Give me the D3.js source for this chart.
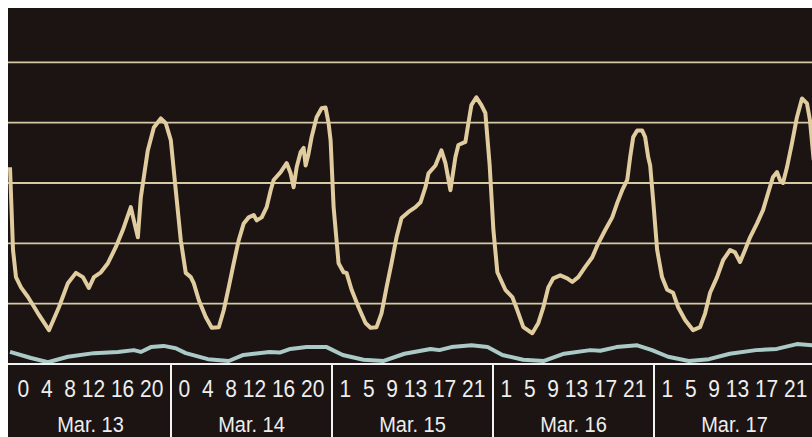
<!DOCTYPE html>
<html><head><meta charset="utf-8">
<script src="https://cdn.jsdelivr.net/npm/d3@7"></script>
<style>html,body{margin:0;padding:0;background:#fff;} svg{display:block}</style>
</head><body><svg id="c" width="812" height="437"></svg>
<script>
const dates = ["Mar. 13","Mar. 14","Mar. 15","Mar. 16","Mar. 17"];
const hourTicks = [[0,4,8,12,16,20],[0,4,8,12,16,20],[1,5,9,13,17,21],[1,5,9,13,17,21],[1,5,9,13,17,21]];
const gridValues = [1,2,3,4,5];
// [hours since Mar. 13 00:00, value]
const demand = [
[0,3.26],[0.45,1.89],[0.89,1.44],[1.64,1.27],[2.68,1.11],[4.17,0.84],[5.81,0.56],[7.29,0.94],[8.63,1.34],[9.83,1.51],[10.87,1.44],[11.76,1.26],[12.51,1.44],[13.55,1.52],[14.59,1.67],[15.78,1.94],[16.82,2.22],[18.01,2.60],[18.46,2.38],[19.06,2.10],[19.5,2.76],[19.95,3.10],[20.54,3.54],[21.44,3.92],[22.48,4.07],[23.22,3.99],[23.97,3.71],
[24.71,2.88],[25.46,2.05],[26.2,1.51],[26.95,1.44],[27.39,1.34],[28.14,1.06],[29.18,0.78],[30.07,0.60],[31.12,0.61],[31.86,0.89],[32.6,1.27],[33.35,1.67],[34.09,2.05],[34.84,2.33],[35.58,2.43],[36.33,2.47],[36.77,2.38],[37.52,2.43],[38.26,2.60],[38.86,2.88],[39.3,3.05],[40.35,3.18],[41.24,3.33],[41.83,3.16],[42.28,2.93],[42.73,3.26],[43.32,3.51],[43.77,3.58],[44.07,3.29],[44.51,3.49],[44.96,3.76],[45.7,4.09],[46.45,4.24],[47.04,4.25],[47.49,3.99],
[47.79,3.71],[48.24,2.60],[48.98,1.67],[49.72,1.52],[50.17,1.51],[50.92,1.23],[51.96,0.94],[53.0,0.68],[53.74,0.60],[54.64,0.61],[55.38,0.84],[56.13,1.27],[56.87,1.67],[57.62,2.10],[58.36,2.42],[59.4,2.52],[60.45,2.60],[61.19,2.68],[61.93,2.93],[62.38,3.16],[63.42,3.29],[64.31,3.54],[64.91,3.33],[65.65,2.88],[66.4,3.43],[66.84,3.63],[67.88,3.68],[68.33,3.99],[68.78,4.29],[69.52,4.42],[70.27,4.29],[70.86,4.16],[71.5,3.30],
[72.06,2.22],[72.65,1.52],[73.84,1.23],[74.88,1.11],[75.63,0.89],[76.52,0.61],[77.86,0.51],[78.76,0.68],[79.5,0.94],[80.24,1.27],[80.99,1.42],[82.03,1.47],[83.07,1.42],[83.82,1.36],[84.71,1.44],[85.75,1.61],[86.8,1.77],[87.69,2.00],[88.73,2.22],[89.77,2.43],[90.52,2.67],[91.26,2.88],[92.01,3.05],[92.45,3.43],[92.9,3.76],[93.49,3.87],[94.24,3.87],[94.68,3.76],[95.13,3.43],[95.43,3.29],[95.87,2.72],
[96.47,1.89],[97.2,1.44],[97.96,1.23],[98.85,1.18],[99.6,0.94],[100.64,0.73],[101.83,0.56],[102.87,0.61],[103.62,0.84],[104.36,1.18],[105.4,1.44],[106.3,1.72],[107.34,1.89],[108.08,1.85],[108.83,1.69],[109.57,1.89],[110.32,2.10],[111.36,2.33],[112.25,2.55],[113.0,2.83],[113.74,3.10],[114.34,3.18],[114.78,3.05],[115.23,3.00],[115.82,3.26],[116.57,3.66],[117.31,4.09],[118.06,4.40],[118.8,4.32],[119.25,4.04],[119.8,3.38]
];
const baseline = [
[0,0.20],[3.13,0.10],[5.66,0.03],[8.63,0.12],[12.5,0.18],[16.08,0.20],[18.46,0.23],[19.5,0.20],[21.0,0.28],[22.9,0.30],[24.7,0.26],[26.2,0.18],[29.5,0.08],[32.6,0.05],[34.8,0.15],[38.7,0.20],[40.2,0.19],[41.8,0.25],[44.2,0.28],[47.2,0.28],[49.6,0.15],[52.7,0.07],[55.7,0.05],[58.8,0.17],[62.7,0.25],[64.0,0.23],[65.8,0.28],[68.8,0.31],[71.2,0.28],[73.4,0.15],[76.5,0.07],[79.6,0.05],[82.6,0.17],[86.5,0.23],[88.0,0.22],[90.4,0.28],[93.5,0.31],[95.7,0.23],[98.1,0.12],[101.2,0.05],[104.2,0.08],[107.3,0.17],[111.2,0.23],[114.3,0.25],[117.3,0.33],[119.8,0.31]
];

const W = 812, H = 437, L = 8, T = 8, axisY = 364;
const svg = d3.select("#c");
const x = d3.scaleLinear().domain([0, 120]).range([10, 815]);
const y = d3.scaleLinear().domain([0, 5.9]).range([axisY, T]);

svg.append("rect").attr("x", L).attr("y", T).attr("width", W - L).attr("height", H - T).attr("fill", "#1b1412");

svg.append("defs").append("clipPath").attr("id", "clip")
  .append("rect").attr("x", L).attr("y", T).attr("width", W - L).attr("height", axisY - T);

svg.append("g").selectAll("line").data(gridValues).join("line")
  .attr("x1", L).attr("x2", W).attr("y1", d => y(d)).attr("y2", d => y(d))
  .attr("stroke", "#d6c9a6").attr("stroke-width", 1.8);

const line = d3.line().x(d => x(d[0])).y(d => y(d[1]));
const g = svg.append("g").attr("clip-path", "url(#clip)");
g.append("path").datum(baseline).attr("d", line).attr("fill", "none")
  .attr("stroke", "#abcac7").attr("stroke-width", 4).attr("stroke-linejoin", "round");
g.append("path").datum(demand).attr("d", line).attr("fill", "none")
  .attr("stroke", "#e0cc9e").attr("stroke-width", 4).attr("stroke-linejoin", "round");

svg.append("line").attr("x1", L).attr("x2", W).attr("y1", axisY).attr("y2", axisY)
  .attr("stroke", "#f2f2f2").attr("stroke-width", 2);
svg.append("g").selectAll("line").data(d3.range(1, dates.length)).join("line")
  .attr("x1", d => x(d * 24)).attr("x2", d => x(d * 24))
  .attr("y1", axisY).attr("y2", H).attr("stroke", "#f2f2f2").attr("stroke-width", 2);

const joinTicks = arr => arr.map((h, i) => i === 0 ? String(h) : (String(h).length === 1 ? "  " : " ") + h).join("");

svg.append("g").selectAll("text").data(hourTicks).join("text")
  .attr("transform", (d, i) => `translate(${x((i + 0.5) * 24)},397) scale(1,1.12)`)
  .attr("text-anchor", "middle").style("white-space", "pre")
  .attr("font-family", "'Liberation Sans', Arial, sans-serif").attr("font-size", 21)
  .attr("fill", "#eeeeee").text(d => joinTicks(d));

svg.append("g").selectAll("text").data(dates).join("text")
  .attr("transform", (d, i) => `translate(${x((i + 0.5) * 24)},432) scale(1,1.1)`)
  .attr("text-anchor", "middle")
  .attr("font-family", "'Liberation Sans', Arial, sans-serif").attr("font-size", 20)
  .attr("fill", "#eeeeee").text(d => d);
</script></body></html>
